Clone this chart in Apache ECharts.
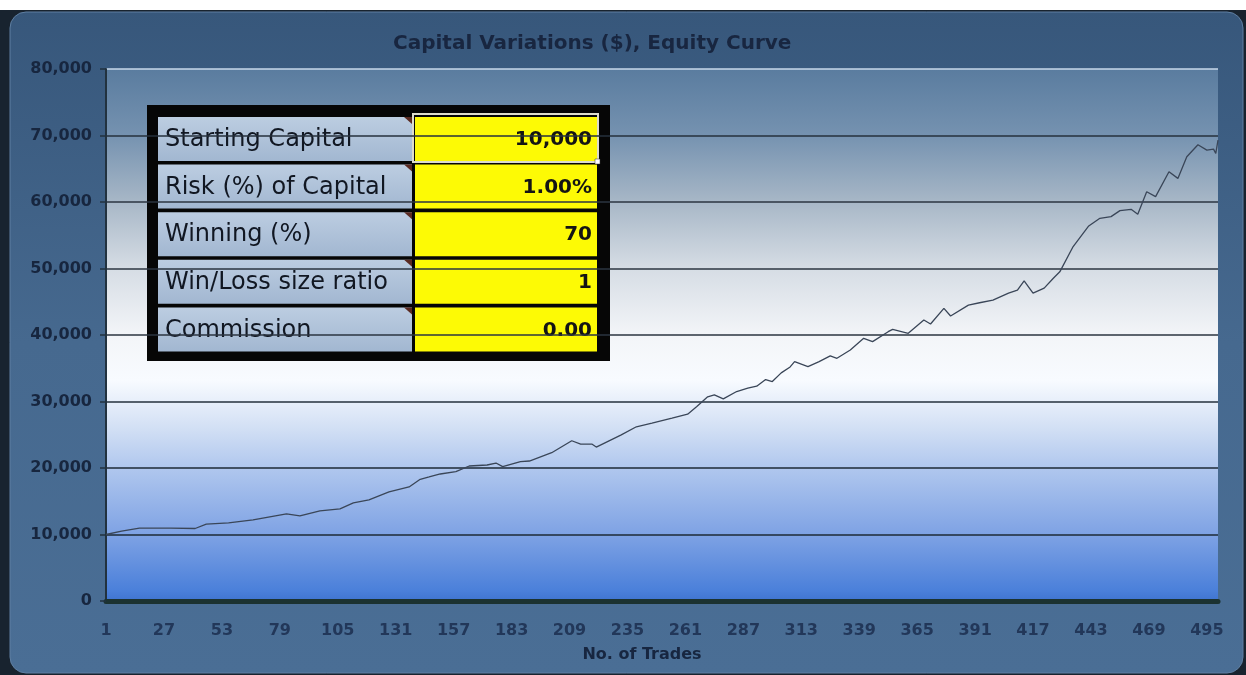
<!DOCTYPE html>
<html>
<head>
<meta charset="utf-8">
<script src="https://cdn.jsdelivr.net/npm/echarts@6/dist/echarts.min.js"></script>
<style>
  html, body { margin: 0; padding: 0; background: #ffffff; }
  #chart { width: 1246px; height: 675px; }
</style>
</head>
<body>
<div id="chart"></div>
<script>
// trade number -> equity ($)
const trades = [1, 8, 16, 30, 41, 46, 56, 67, 77, 82, 88, 97, 106, 112, 119, 128, 137, 142, 146, 151,
  158, 164, 172, 176, 179, 187, 191, 201, 210, 214, 219, 221, 232, 239, 246, 255, 262, 266, 271, 274,
  278, 284, 289, 293, 297, 300, 304, 308, 310, 316, 321, 326, 329, 335, 341, 345, 352, 354, 361, 368,
  371, 377, 380, 388, 393, 399, 406, 410, 413, 417, 422, 426, 429, 435, 442, 447, 452, 456, 461, 464,
  468, 472, 478, 482, 486, 491, 495, 498, 499, 500];
const equity = [10000, 10500, 10950, 10950, 10900, 11550, 11750, 12200, 12800, 13100, 12800, 13550, 13850, 14750, 15200, 16400, 17150, 18300, 18650, 19100,
  19450, 20300, 20450, 20750, 20200, 20950, 21050, 22300, 24100, 23600, 23600, 23150, 24950, 26200, 26750, 27500, 28100, 29200, 30700, 31000,
  30400, 31500, 32000, 32300, 33300, 33000, 34300, 35200, 36000, 35250, 36000, 36850, 36500, 37750, 39500, 39000, 40500, 40850, 40250, 42250,
  41650, 44000, 42850, 44500, 44850, 45250, 46300, 46750, 48150, 46300, 47050, 48500, 49500, 53300, 56400, 57550, 57800, 58700, 58900, 58150,
  61550, 60800, 64550, 63550, 66800, 68600, 67800, 67950, 67300, 69300];

// input table
const paramLabels = ['Starting Capital', 'Risk (%) of Capital', 'Winning (%)', 'Win/Loss size ratio', 'Commission'];
const paramValues = ['10,000', '1.00%', '70', '1', '0.00'];

const chart = echarts.init(document.getElementById('chart'));

function fmt(v) {
  return String(v).replace(/\B(?=(\d{3})+(?!\d))/g, ',');
}

// table graphic
const tbl = [];
tbl.push({ type: 'rect', shape: { x: 147, y: 105, width: 463, height: 256 }, style: { fill: '#060606' } });
paramLabels.forEach((lab, i) => {
  const top = 117 + i * 47.6;
  tbl.push({
    type: 'rect', shape: { x: 158, y: top, width: 254, height: 44 },
    style: { fill: new echarts.graphic.LinearGradient(0, 0, 0, 1, [
      { offset: 0, color: '#bccde1' }, { offset: 1, color: '#a2b7d1' }]) }
  });
  tbl.push({ type: 'polygon', shape: { points: [[404, top], [412, top], [412, top + 7]] }, style: { fill: '#5a2a22' } });
  tbl.push({ type: 'rect', shape: { x: 415, y: top, width: 182, height: 44 }, style: { fill: '#fdfa05' } });
  tbl.push({
    type: 'text', x: 165, y: top + 23,
    style: { text: lab, font: '24px "DejaVu Sans"', fill: '#111722', align: 'left', textAlign: 'left', verticalAlign: 'middle', textVerticalAlign: 'middle' }
  });
  tbl.push({
    type: 'text', x: 592, y: top + 23,
    style: { text: paramValues[i], font: 'bold 20px "DejaVu Sans"', fill: '#141414', align: 'right', textAlign: 'right', verticalAlign: 'middle', textVerticalAlign: 'middle' }
  });
});
// selected cell outline
tbl.push({ type: 'rect', shape: { x: 413, y: 114, width: 185, height: 48 }, style: { fill: 'none', stroke: '#dcdccc', lineWidth: 2 } });
tbl.push({ type: 'rect', shape: { x: 595, y: 159, width: 5, height: 5 }, style: { fill: '#ffffff', stroke: '#333', lineWidth: 0.5 } });

const splitColors = ['#1e2a36', '#1e2a36', '#1e2a36', '#25313d', '#2b3540', '#2b3540', '#2b3540', '#26303c', '#c8d8ea'];

const option = {
  animation: false,
  backgroundColor: '#ffffff',
  title: {
    text: 'Capital Variations ($), Equity Curve',
    left: 388,
    top: 29,
    textStyle: { fontFamily: 'DejaVu Sans', fontWeight: 'bold', fontSize: 20, color: '#182640' }
  },
  graphic: [
    { type: 'rect', z: -20, shape: { x: 0, y: 10, width: 1246, height: 665 }, style: { fill: '#18232f' } },
    {
      type: 'rect', z: -19, shape: { x: 10, y: 12, width: 1233, height: 661, r: 16 },
      style: {
        fill: new echarts.graphic.LinearGradient(0, 0, 0, 1, [
          { offset: 0, color: '#37577b' }, { offset: 0.5, color: '#46698f' }, { offset: 1, color: '#4a6e95' }]),
        stroke: '#5f7fa2', lineWidth: 1
      }
    },
    { type: 'group', z: 100, children: tbl }
  ],
  grid: {
    left: 106, right: 28, top: 69, bottom: 74,
    show: true, borderWidth: 0,
    backgroundColor: new echarts.graphic.LinearGradient(0, 0, 0, 1, [
      { offset: 0, color: '#5a7c9f' },
      { offset: 0.124, color: '#7592b0' },
      { offset: 0.246, color: '#a6b6c6' },
      { offset: 0.372, color: '#d5dce4' },
      { offset: 0.5, color: '#f3f5f8' },
      { offset: 0.585, color: '#f8fbff' },
      { offset: 0.68, color: '#d0def4' },
      { offset: 0.75, color: '#b0c7ee' },
      { offset: 0.876, color: '#7ea2e4' },
      { offset: 0.98, color: '#4b80da' },
      { offset: 1, color: '#3f74d0' }])
  },
  xAxis: {
    type: 'value',
    min: 1, max: 500, interval: 26,
    name: 'No. of Trades',
    nameLocation: 'middle',
    nameGap: 46,
    nameTextStyle: { fontFamily: 'DejaVu Sans', fontWeight: 'bold', fontSize: 16, color: '#172640', padding: [0, 40, 0, 0] },
    axisLine: { show: true, lineStyle: { color: '#1b3231', width: 5 } },
    axisTick: { show: false },
    splitLine: { show: false },
    axisLabel: {
      margin: 22, showMaxLabel: false,
      fontFamily: 'DejaVu Sans', fontWeight: 'bold', fontSize: 16, color: '#223759'
    }
  },
  yAxis: {
    type: 'value',
    min: 0, max: 80000, interval: 10000,
    axisLine: { show: true, lineStyle: { color: '#22323f', width: 2 } },
    axisTick: { show: true, length: 6, lineStyle: { color: '#22323f', width: 1.5 } },
    splitLine: { show: true, lineStyle: { color: splitColors, width: 1.5 } },
    axisLabel: {
      margin: 14, formatter: fmt,
      fontFamily: 'DejaVu Sans', fontWeight: 'bold', fontSize: 16, color: '#17263f'
    }
  },
  series: [{
    type: 'line',
    name: 'Equity',
    data: trades.map((t, i) => [t, equity[i]]),
    showSymbol: false,
    lineStyle: { color: '#3a4658', width: 1.3 }
  }]
};

chart.setOption(option);
</script>
</body>
</html>
